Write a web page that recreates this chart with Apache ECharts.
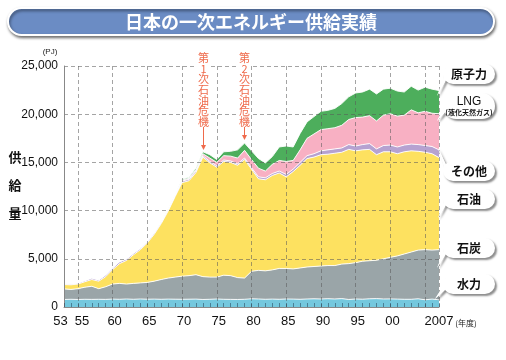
<!DOCTYPE html>
<html><head><meta charset="utf-8">
<script src="https://cdn.jsdelivr.net/npm/echarts@6/dist/echarts.min.js"></script>
<style>html,body{margin:0;padding:0;background:#fff}#c{width:506px;height:360px}</style>
</head><body><div id="c"></div>
<script>
const years = ['1953','1954','1955','1956','1957','1958','1959','1960','1961','1962','1963','1964','1965','1966','1967','1968','1969','1970','1971','1972','1973','1974','1975','1976','1977','1978','1979','1980','1981','1982','1983','1984','1985','1986','1987','1988','1989','1990','1991','1992','1993','1994','1995','1996','1997','1998','1999','2000','2001','2002','2003','2004','2005','2006','2007'];
const labelYears = {'1953':'53','1955':'55','1960':'60','1965':'65','1970':'70','1975':'75','1980':'80','1985':'85','1990':'90','1995':'95','2000':'00','2007':'2007'};
const yTicks = [0,5000,10000,15000,20000,25000];
// PJ per layer
const hydro   = [780,800,780,800,790,800,790,820,800,830,800,830,810,820,800,820,810,800,810,820,780,800,830,800,790,780,800,850,830,800,820,800,830,820,800,830,850,830,860,830,870,780,830,810,850,870,830,840,820,800,800,850,750,820,750];
const coal    = [1100,1020,1120,1250,1360,1100,1310,1560,1650,1550,1650,1670,1740,1860,2050,2180,2290,2400,2440,2530,2370,2300,2270,2500,2460,2270,2200,2850,2970,2950,3030,3200,3170,3130,3250,3320,3350,3420,3440,3470,3580,3720,3770,3940,3950,3980,4170,4310,4480,4700,4900,5050,5200,5080,5200];
const oil     = [450,480,480,570,700,780,1050,1500,2050,2450,2970,3450,4100,4870,5800,6950,8350,9700,9850,10600,12400,11850,11400,11800,11750,11650,12300,10600,9500,9450,9800,9900,9500,10100,10650,11250,11350,11550,11550,11650,11600,11850,11600,11550,11550,10950,11100,10950,10600,10600,10500,10250,10100,10000,9550];
const other   = [100,100,120,130,170,140,180,180,200,170,160,150,150,150,150,150,130,150,150,150,150,150,150,150,150,150,150,150,200,200,200,200,250,250,300,300,350,400,450,450,450,500,500,550,600,600,650,700,700,700,700,700,700,750,800];
const lng     = [0,0,0,0,0,0,0,0,0,0,0,0,0,0,0,0,20,100,100,150,200,350,350,450,500,600,800,850,900,700,950,1100,1350,900,1300,1800,2050,2200,2200,2200,2350,2600,2950,2850,2900,2900,3150,3250,3200,3100,3550,3300,3550,3450,3750];
const nuclear = [0,0,0,0,0,0,0,0,0,0,0,0,0,10,20,30,20,100,100,170,200,350,300,400,500,850,750,900,1000,850,800,1400,1600,1400,1700,1700,1800,1900,1900,2000,2250,2350,2550,2600,2750,2800,2700,2650,2600,2400,2450,2350,2500,2500,2400];

const names  = ['水力','石炭','石油','その他','LNG','原子力'];
const colors = ['#74C8DE','#9AA5A8','#FDE160','#B6A2D1','#F8B0C3','#4DAE5C'];
const values = [hydro, coal, oil, other, lng, nuclear];

const NUM = '"Liberation Sans", Arial, sans-serif';
const JP = '"Noto Sans CJK JP", sans-serif';
const C = {align:'center', verticalAlign:'middle', textAlign:'center', textVerticalAlign:'middle'};

const chart = echarts.init(document.getElementById('c'));

const graphic = [];
// title banner
graphic.push({type:'rect', shape:{x:8,y:8,width:486,height:27,r:13.5}, style:{fill:'#6B8CC4',stroke:'#fff',lineWidth:2,shadowBlur:3,shadowOffsetX:1,shadowOffsetY:2,shadowColor:'rgba(0,0,0,0.5)'}, z:100});
graphic.push({type:'text', style:Object.assign({text:'日本の一次エネルギー供給実績', x:251, y:22, fill:'#fff', font:'bold 18px '+JP, shadowBlur:2, shadowColor:'rgba(0,0,0,0.4)'},C), z:101});
// y-axis name
[['供',157],['給',185],['量',213]].forEach(function(p){
  graphic.push({type:'text', style:Object.assign({text:p[0], x:15, y:p[1], fill:'#111', font:'bold 13px '+JP},C), z:101});
});
graphic.push({type:'text', style:Object.assign({text:'(PJ)', x:50, y:52, fill:'#222', font:'8px '+NUM},C), z:101});
graphic.push({type:'text', style:Object.assign({text:'(年度)', x:466, y:323, fill:'#222', font:'8px '+JP},C), z:101});
// oil crisis annotations
function crisis(x, num, tipY){
  const chars = ['第', num, '次','石','油','危','機'];
  graphic.push({type:'rect', shape:{x:x-6.5,y:52,width:13,height:75}, style:{fill:'#fff'}, z:100});
  chars.forEach(function(ch,i){
    graphic.push({type:'text', style:Object.assign({text:ch, x:x, y:58+i*10.6, fill:'#EF6A4B', font:'11px '+JP},C), z:102});
  });
  graphic.push({type:'line', shape:{x1:x,y1:127,x2:x,y2:tipY-3}, style:{stroke:'#EF6A4B',lineWidth:1}, z:102});
  graphic.push({type:'polygon', shape:{points:[[x-2.5,tipY-5],[x+2.5,tipY-5],[x,tipY]]}, style:{fill:'#EF6A4B'}, z:102});
}
crisis(203.5, '1', 150);
crisis(244.5, '2', 140);
// callouts
const callouts = [
  {t:'原子力', y:64, h:20, tip:[437,96]},
  {t:'LNG', sub:'(液化天然ガス)', y:93, h:26, tip:[437,121]},
  {t:'その他', y:161, h:20, tip:[438,148]},
  {t:'石油', y:189, h:20, tip:[438,218]},
  {t:'石炭', y:238, h:20, tip:[437,268]},
  {t:'水力', y:274, h:20, tip:[435,299]}
];
callouts.forEach(function(c){
  const bx = 443, bw = 52;
  const my = c.y + c.h/2;
  const sh = {shadowBlur:2, shadowOffsetX:2, shadowOffsetY:2, shadowColor:'rgba(0,0,0,0.45)'};
  const tail = [[bx+4, my-4],[bx+4, my+4],c.tip];
  graphic.push({type:'polygon', shape:{points:tail}, style:Object.assign({fill:'#fff'},sh), z:110});
  graphic.push({type:'rect', shape:{x:bx,y:c.y,width:bw,height:c.h,r:c.h/2}, style:Object.assign({fill:'#fff'},sh), z:111});
  graphic.push({type:'polygon', shape:{points:tail}, style:{fill:'#fff'}, z:112});
  if(c.sub){
    graphic.push({type:'text', style:Object.assign({text:c.t, x:bx+bw/2, y:c.y+9, fill:'#111', font:'12px '+NUM},C), z:113});
    graphic.push({type:'text', style:Object.assign({text:c.sub, x:bx+bw/2, y:c.y+19, fill:'#111', font:'bold 7px '+JP},C), z:113});
  } else {
    graphic.push({type:'text', style:Object.assign({text:c.t, x:bx+bw/2, y:my, fill:'#111', font:'bold 12px '+JP},C), z:113});
  }
});

const series = names.map(function(n,i){
  return {
    name:n, type:'line', stack:'total', data:values[i], symbol:'none', smooth:false,
    lineStyle:{color:'#fff', width:1, opacity:0.9},
    areaStyle:{color:colors[i], opacity:1},
    emphasis:{disabled:true}, z:2
  };
});

chart.setOption({
  animation:false,
  backgroundColor:'#fff',
  grid:{left:64, right:67, top:66, bottom:53},
  xAxis:{
    type:'category', data:years, boundaryGap:false, z:10,
    axisLine:{show:true, lineStyle:{color:'#888', width:1}},
    axisTick:{show:true, inside:true, length:4, interval:0, lineStyle:{color:'rgba(40,70,90,0.55)'}},
    axisLabel:{interval:function(i,v){return labelYears[v]!==undefined;},
      formatter:function(v){var s=labelYears[v]||''; if(s==='53') return '{l|53}'; if(s==='55') return '{r|55}'; if(s==='2007') return '{e|2007}'; return '{m|'+s+'}';},
      rich:{l:{padding:[0,7,0,0],fontSize:13,fontFamily:NUM,color:'#111'}, r:{padding:[0,0,0,8],fontSize:13,fontFamily:NUM,color:'#111'}, m:{padding:[0,0,0,4],fontSize:13,fontFamily:NUM,color:'#111'}, e:{padding:[0,0,0,0],fontSize:13,fontFamily:NUM,color:'#111'}},
      color:'#111', fontSize:13, fontFamily:NUM, margin:8},
    splitLine:{show:true, interval:function(i,v){var y=+v; return (y%5===0) || y===2007;}, lineStyle:{color:'rgba(90,90,90,0.55)', type:[4,3], width:1}}
  },
  yAxis:{
    type:'value', min:0, max:25000, interval:5000, z:10,
    axisLine:{show:true, lineStyle:{color:'#888'}},
    axisTick:{show:false},
    axisLabel:{color:'#111', fontSize:12, fontFamily:NUM, margin:6, formatter:function(v){return v.toLocaleString('en-US');}},
    splitLine:{show:true, lineStyle:{color:'rgba(90,90,90,0.55)', type:[4,3], width:1}}
  },
  series:series,
  graphic:graphic
});
</script></body></html>
